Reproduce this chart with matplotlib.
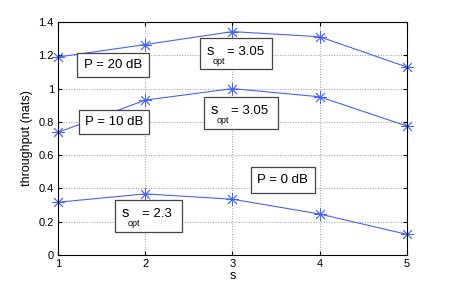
import numpy as np
import matplotlib
matplotlib.use('Agg')
import matplotlib.pyplot as plt
from matplotlib.patches import Rectangle

plt.rcParams['font.family'] = ['Liberation Sans', 'DejaVu Sans']

# data
s = [1, 2, 3, 4, 5]
thr_20db = [1.19, 1.265, 1.343, 1.312, 1.13]
thr_10db = [0.737, 0.931, 1.0, 0.951, 0.775]
thr_0db = [0.317, 0.367, 0.335, 0.246, 0.124]

line_col = '#4463ff'

fig = plt.figure(figsize=(4.5, 2.91), dpi=100)
ax = fig.add_axes([0.129, 0.124, 0.775, 0.8])

for y in [thr_20db, thr_10db, thr_0db]:
    ax.plot(s, y, '-', color=line_col, linewidth=0.8,
            marker=(8, 2, 0), markersize=9, markeredgewidth=0.6, clip_on=False)

ax.set_xlim(1, 5)
ax.set_ylim(0, 1.4)
ax.set_xticks([1, 2, 3, 4, 5])
ax.set_yticks([0, 0.2, 0.4, 0.6, 0.8, 1, 1.2, 1.4])
ax.set_yticklabels(['0', '0.2', '0.4', '0.6', '0.8', '1', '1.2', '1.4'])
ax.grid(True, linestyle=':', color='#999999', linewidth=0.7)
ax.tick_params(direction='in', top=True, right=True, labelsize=8, length=3, pad=3)
for sp in ax.spines.values():
    sp.set_linewidth(0.8)

ax.set_xlabel('s', fontsize=9, labelpad=1)
ax.set_ylabel('throughput (nats)', fontsize=9, labelpad=4)

# text boxes: (x0, x1, y_bottom, y_top) in data units
def draw_box(x0, x1, yb, yt):
    ax.add_patch(Rectangle((x0, yb), x1 - x0, yt - yb, facecolor='white',
                           edgecolor='#444444', linewidth=0.9, zorder=5, clip_on=False))

p_boxes = [
    ((1.218, 2.043, 1.070, 1.214), 'P = 20 dB'),
    ((1.241, 2.043, 0.727, 0.871), 'P = 10 dB'),
    ((3.212, 3.946, 0.373, 0.529), 'P = 0 dB'),
]
for (x0, x1, yb, yt), t in p_boxes:
    draw_box(x0, x1, yb, yt)
    ax.text((x0 + x1) / 2, (yb + yt) / 2, t, fontsize=9.5, ha='center', va='center', zorder=6)

s_boxes = [
    ((2.627, 3.453, 1.118, 1.304), '3.05'),
    ((2.673, 3.521, 0.757, 0.950), '3.05'),
    ((1.653, 2.421, 0.138, 0.331), '2.3'),
]
for (x0, x1, yb, yt), v in s_boxes:
    draw_box(x0, x1, yb, yt)
    kw = dict(xy=(x0, yt), textcoords='offset points', ha='left', va='baseline', zorder=6)
    ax.annotate('s', xytext=(4.6, -12.0), fontsize=10.5, **kw)
    ax.annotate('opt', xytext=(8.8, -18.7), fontsize=6.5, **kw)
    ax.annotate('= ' + v, xytext=(19.6, -12.0), fontsize=9.5, **kw)

fig.savefig('out.png', dpi=100)
